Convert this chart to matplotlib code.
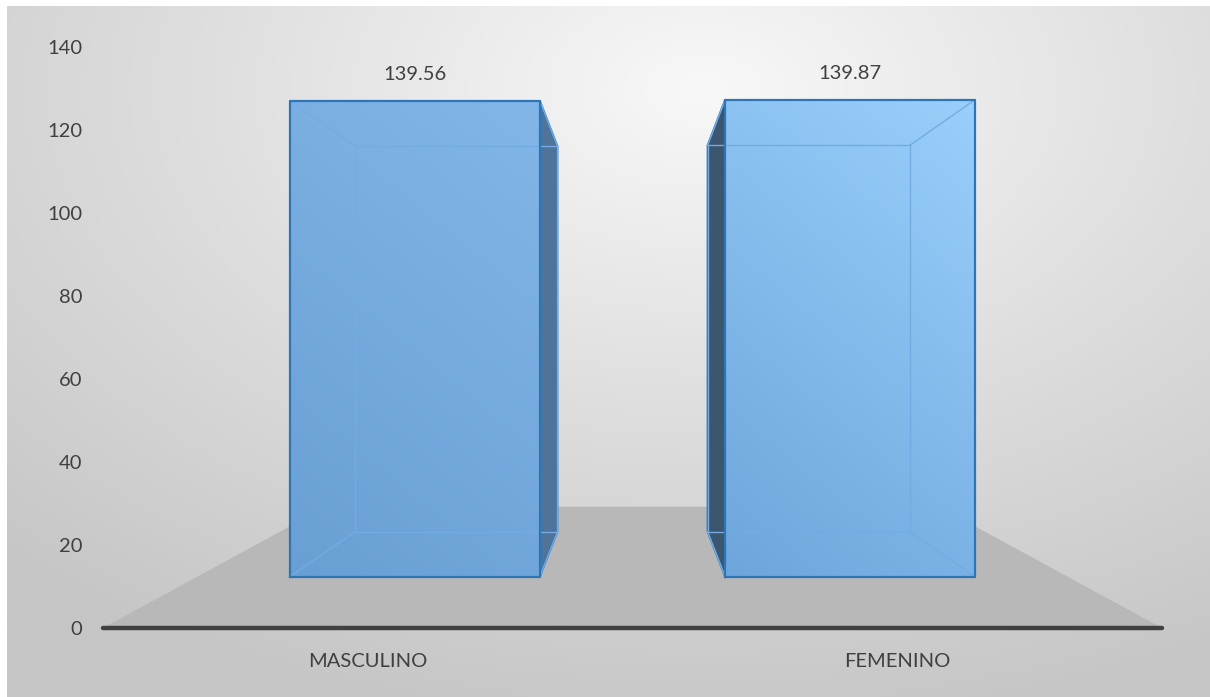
import numpy as np
import matplotlib.pyplot as plt
from matplotlib.patches import Polygon
from matplotlib.colors import LinearSegmentedColormap

categorias = ['MASCULINO', 'FEMENINO']
valores = [139.56, 139.87]
etiquetas = ['139.56', '139.87']
yticks = [0, 20, 40, 60, 80, 100, 120, 140]

plt.rcParams['font.family'] = ['Lato', 'DejaVu Sans']

fig = plt.figure(figsize=(12.1, 6.97), dpi=100, facecolor='white')

# fondo con degradado (tipo Excel)
bg = fig.add_axes([7/1210, 0, 1 - 7/1210, 1 - 6/697])
bg.set_axis_off()
yy, xx = np.mgrid[0:1:300j, 0:1:500j]
r = np.sqrt(((xx - 0.58) / 1.0) ** 2 + ((yy - 0.12) / 1.1) ** 2)
cm_bg = LinearSegmentedColormap.from_list('bg', ['#f8f8f8', '#dedede', '#c6c6c6'])
bg.imshow(r, cmap=cm_bg, vmin=0.0, vmax=0.85, aspect='auto', extent=[0, 1, 1, 0])
bg.set_xlim(0, 1)
bg.set_ylim(1, 0)

# ejes principales
ax = fig.add_axes([103/1210, 69/697, 1059/1210, 581/697])
ax.patch.set_alpha(0)
for s in ax.spines.values():
    s.set_visible(False)

# perspectiva
VX, VY = 0.5, 69.4
def proy(x, y, d):
    s = 1 / (1 + d)
    return VX + (x - VX) * s, VY + (y - VY) * s

ancho = 0.574
d_frente, d_fondo, d_piso = 0.217, 0.502, 0.727

# piso
piso = [proy(-0.5, 0, 0), proy(1.5, 0, 0), proy(1.5, 0, d_piso), proy(-0.5, 0, d_piso)]
ax.add_patch(Polygon(piso, closed=True, facecolor='#b8b8b8', edgecolor='none', zorder=1))
ax.plot([-0.5, 1.5], [0, 0], color='#404040', lw=3.2, solid_capstyle='round', clip_on=False, zorder=2)

grad_cols = [('#6a9fd4', '#82b6e8'), ('#6ea6dc', '#9acffb')]
lado_cols = ['#4f7399', '#3d566f']
borde = '#2e75b6'
interior = '#72ace2'

for i, v in enumerate(valores):
    x0, x1 = i - ancho / 2, i + ancho / 2
    f = [proy(x0, 0, d_frente), proy(x1, 0, d_frente), proy(x1, v, d_frente), proy(x0, v, d_frente)]
    b = [proy(x0, 0, d_fondo), proy(x1, 0, d_fondo), proy(x1, v, d_fondo), proy(x0, v, d_fondo)]
    # cara lateral visible
    if i == 0:
        lado = [f[1], b[1], b[2], f[2]]
    else:
        lado = [f[0], b[0], b[3], f[3]]
    ax.add_patch(Polygon(lado, closed=True, facecolor=lado_cols[i], edgecolor=borde, lw=1.4, zorder=3))
    # cara frontal con degradado
    cara = Polygon(f, closed=True, facecolor='none', edgecolor='none', zorder=4)
    ax.add_patch(cara)
    gx, gy = np.meshgrid(np.linspace(0, 1, 100), np.linspace(0, 1, 200))
    g = 0.7 * gy + 0.3 * gx
    cmap = LinearSegmentedColormap.from_list('c%d' % i, list(grad_cols[i]))
    im = ax.imshow(g, cmap=cmap, vmin=0, vmax=1, origin='lower', aspect='auto',
                   extent=[f[0][0], f[1][0], f[0][1], f[2][1]], zorder=4)
    im.set_clip_path(cara)
    # aristas de fondo y diagonales
    for p, q in [(b[0], b[1]), (b[1], b[2]), (b[2], b[3]), (b[3], b[0]),
                 (f[0], b[0]), (f[1], b[1]), (f[2], b[2]), (f[3], b[3])]:
        ax.plot([p[0], q[0]], [p[1], q[1]], color=interior, lw=1.0, zorder=5)
    xs = [p[0] for p in f] + [f[0][0]]
    ys = [p[1] for p in f] + [f[0][1]]
    ax.plot(xs, ys, color=borde, lw=1.6, zorder=6)
    ax.annotate(etiquetas[i], xy=((f[0][0] + f[1][0]) / 2, f[2][1]), xytext=(0, 19),
                textcoords='offset points', ha='center', va='center',
                fontsize=14.5, color='#404040', zorder=7)

ax.set_xlim(-0.5, 1.5)
ax.set_ylim(0, 140)
ax.set_yticks(yticks)
ax.set_xticks([0, 1])
ax.set_xticklabels(categorias)
ax.tick_params(axis='y', length=0, pad=15, labelsize=14.5, labelcolor='#404040')
ax.tick_params(axis='x', length=0, pad=18, labelsize=14.5, labelcolor='#404040')

fig.savefig('out.png', dpi=100, facecolor=fig.get_facecolor())
